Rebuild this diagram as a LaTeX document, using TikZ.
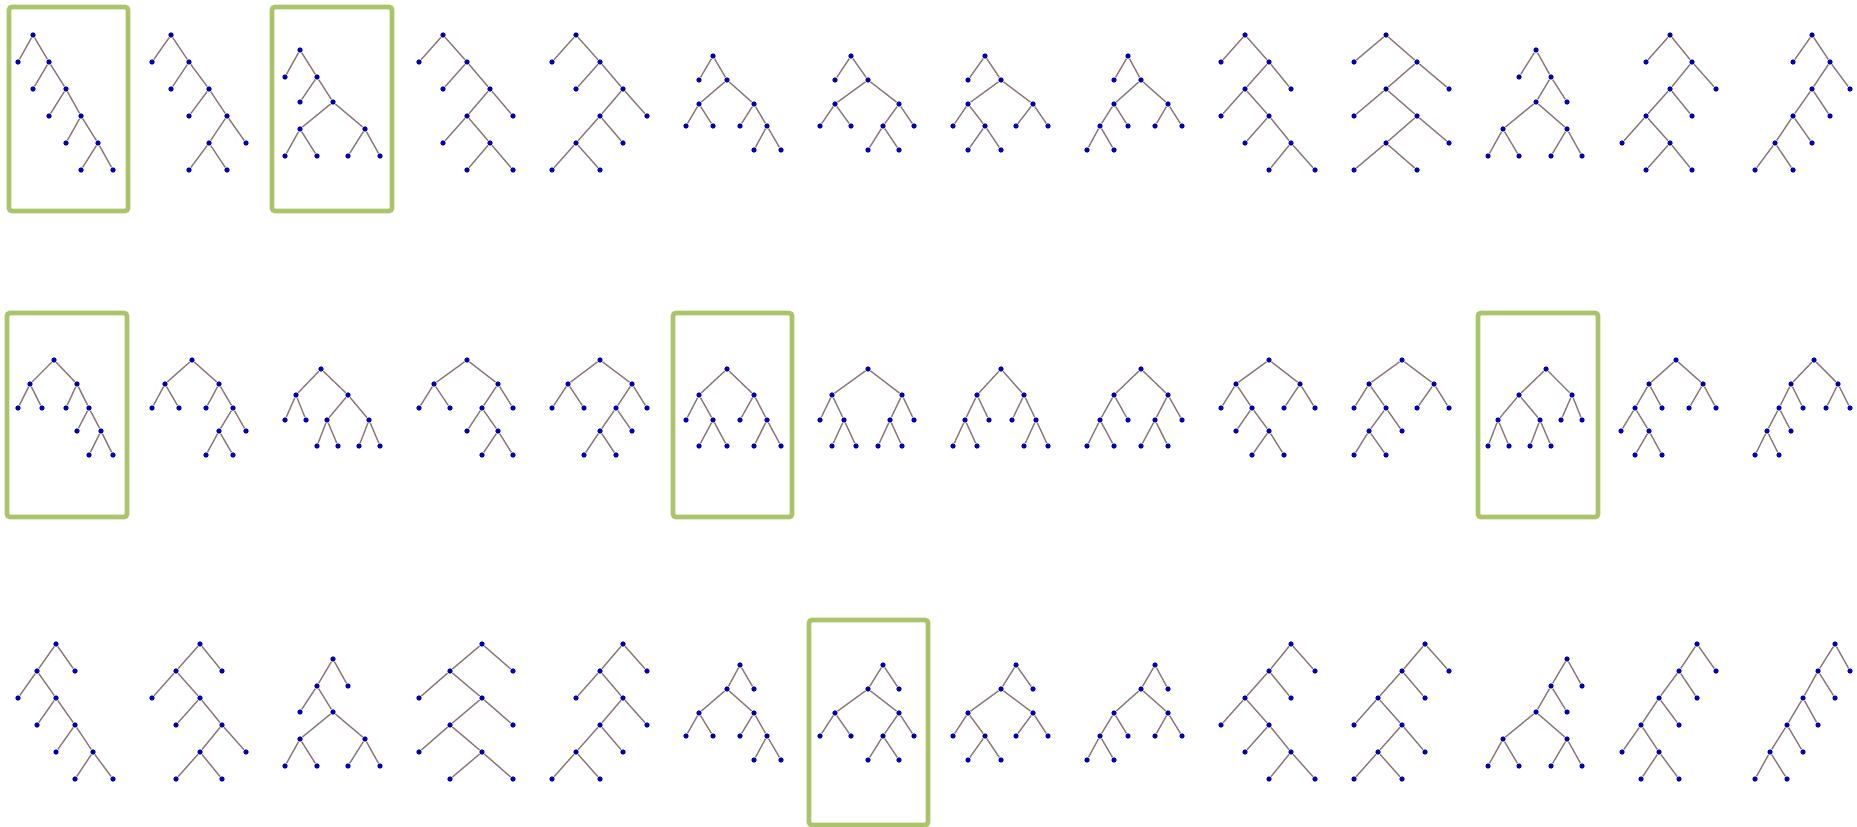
\documentclass[tikz,border=0pt]{standalone}
\usepackage{tikz}

\definecolor{dotblue}{RGB}{0,0,180}
\definecolor{edgegray}{RGB}{140,120,120}
\definecolor{framegreen}{RGB}{170,196,108}

\tikzset{
  treedot/.style={circle, fill=dotblue, inner sep=0pt, minimum size=2.1pt},
  treeedge/.style={draw=edgegray, line width=0.55pt},
  hilite/.style={draw=framegreen, line width=1.9pt, rounded corners=1.2pt}
}

% one tree: list of x/y/parent (parent 0 = root)
\newcommand{\drawtree}[2]{%
  \foreach \px/\py/\pa [count=\i] in {#2} {
    \node[treedot] (t#1-\i) at (\px,\py) {};
    \ifnum\pa>0 \draw[treeedge] (t#1-\pa) -- (t#1-\i); \fi
  }%
}

\begin{document}
\begin{tikzpicture}[x=0.4pt, y=-0.4pt]
  \useasboundingbox (0,0) rectangle (1857,826);

  % highlighted trees
  \draw[hilite] (9,7) rectangle (128,211);
  \draw[hilite] (272,7) rectangle (392,211);
  \draw[hilite] (7,313) rectangle (127,517);
  \draw[hilite] (673,313) rectangle (792,517);
  \draw[hilite] (1478,313) rectangle (1598,517);
  \draw[hilite] (809,620) rectangle (928,825);

  % row 1
  \drawtree{1}{33/35/0, 18/62/1, 49/62/1, 33/89/3, 66/89/3, 49/116/5, 81/116/5, 66/143/7, 98/143/7, 81/170/9, 113/170/9}
  \drawtree{2}{171/35/0, 152/62/1, 189/62/1, 171/89/3, 209/89/3, 189/116/5, 227/116/5, 209/143/7, 246/143/7, 189/170/8, 227/170/8}
  \drawtree{3}{300/50/0, 285/77/1, 317/77/1, 300/102/3, 333/102/3, 300/129/5, 365/129/5, 285/156/6, 317/156/6, 348/156/7, 380/156/7}
  \drawtree{4}{443/35/0, 419/62/1, 467/62/1, 443/89/3, 490/89/3, 467/116/5, 513/116/5, 443/143/6, 490/143/6, 467/170/9, 513/170/9}
  \drawtree{5}{576/35/0, 552/62/1, 600/62/1, 576/89/3, 623/89/3, 600/116/5, 647/116/5, 576/143/6, 623/143/6, 552/170/8, 600/170/8}
  \drawtree{6}{713/56/0, 699/80/1, 727/80/1, 699/104/3, 754/104/3, 686/126/4, 713/126/4, 740/126/5, 767/126/5, 754/150/9, 781/150/9}
  \drawtree{7}{851/56/0, 835/80/1, 868/80/1, 835/104/3, 899/104/3, 820/126/4, 851/126/4, 883/126/5, 914/126/5, 868/150/8, 899/150/8}
  \drawtree{8}{985/56/0, 968/80/1, 1001/80/1, 968/104/3, 1033/104/3, 953/126/4, 985/126/4, 1016/126/5, 1048/126/5, 968/150/7, 1001/150/7}
  \drawtree{9}{1128/56/0, 1114/80/1, 1141/80/1, 1114/104/3, 1168/104/3, 1100/126/4, 1128/126/4, 1155/126/5, 1182/126/5, 1087/150/6, 1114/150/6}
  \drawtree{10}{1245/35/0, 1221/62/1, 1269/62/1, 1245/89/3, 1291/89/3, 1221/116/4, 1269/116/4, 1245/143/7, 1291/143/7, 1269/170/9, 1315/170/9}
  \drawtree{11}{1386/35/0, 1354/62/1, 1417/62/1, 1386/89/3, 1449/89/3, 1354/116/4, 1417/116/4, 1386/143/7, 1449/143/7, 1354/170/8, 1417/170/8}
  \drawtree{12}{1536/50/0, 1519/77/1, 1551/77/1, 1536/102/3, 1567/102/3, 1503/129/4, 1567/129/4, 1488/156/6, 1519/156/6, 1551/156/7, 1582/156/7}
  \drawtree{13}{1670/35/0, 1646/62/1, 1692/62/1, 1670/89/3, 1716/89/3, 1646/116/4, 1692/116/4, 1622/143/6, 1670/143/6, 1646/170/9, 1692/170/9}
  \drawtree{14}{1812/35/0, 1793/62/1, 1830/62/1, 1812/89/3, 1850/89/3, 1793/116/4, 1830/116/4, 1775/143/6, 1812/143/6, 1755/170/8, 1793/170/8}

  % row 2
  \drawtree{15}{54/360/0, 30/384/1, 77/384/1, 18/408/2, 42/408/2, 66/408/3, 89/408/3, 77/431/7, 101/431/7, 89/455/9, 113/455/9}
  \drawtree{16}{192/360/0, 165/384/1, 219/384/1, 152/408/2, 179/408/2, 206/408/3, 233/408/3, 219/431/7, 246/431/7, 206/455/8, 233/455/8}
  \drawtree{17}{321/369/0, 296/395/1, 348/395/1, 285/420/2, 306/420/2, 327/420/3, 369/420/3, 317/446/6, 338/446/6, 359/446/7, 380/446/7}
  \drawtree{18}{467/360/0, 434/384/1, 498/384/1, 419/408/2, 450/408/2, 482/408/3, 513/408/3, 467/431/6, 498/431/6, 482/455/9, 513/455/9}
  \drawtree{19}{600/360/0, 568/384/1, 632/384/1, 552/408/2, 584/408/2, 616/408/3, 647/408/3, 600/431/6, 632/431/6, 584/455/8, 616/455/8}
  \drawtree{20}{727/369/0, 699/395/1, 754/395/1, 686/420/2, 713/420/2, 740/420/3, 767/420/3, 699/446/5, 727/446/5, 754/446/7, 781/446/7}
  \drawtree{21}{868/369/0, 832/395/1, 902/395/1, 820/420/2, 844/420/2, 890/420/3, 914/420/3, 832/446/5, 856/446/5, 878/446/6, 902/446/6}
  \drawtree{22}{1001/369/0, 977/395/1, 1024/395/1, 965/420/2, 989/420/2, 1012/420/3, 1036/420/3, 953/446/4, 977/446/4, 1024/446/7, 1048/446/7}
  \drawtree{23}{1141/369/0, 1114/395/1, 1168/395/1, 1100/420/2, 1128/420/2, 1155/420/3, 1182/420/3, 1087/446/4, 1114/446/4, 1141/446/6, 1168/446/6}
  \drawtree{24}{1269/360/0, 1236/384/1, 1300/384/1, 1221/408/2, 1252/408/2, 1284/408/3, 1315/408/3, 1236/431/5, 1269/431/5, 1252/455/9, 1284/455/9}
  \drawtree{25}{1402/360/0, 1369/384/1, 1434/384/1, 1354/408/2, 1386/408/2, 1417/408/3, 1449/408/3, 1369/431/5, 1402/431/5, 1354/455/8, 1386/455/8}
  \drawtree{26}{1546/369/0, 1519/395/1, 1572/395/1, 1498/420/2, 1540/420/2, 1561/420/3, 1582/420/3, 1488/446/4, 1509/446/4, 1530/446/5, 1551/446/5}
  \drawtree{27}{1676/360/0, 1649/384/1, 1703/384/1, 1635/408/2, 1662/408/2, 1689/408/3, 1716/408/3, 1621/431/4, 1649/431/4, 1635/455/9, 1662/455/9}
  \drawtree{28}{1814/360/0, 1791/384/1, 1838/384/1, 1779/408/2, 1803/408/2, 1826/408/3, 1850/408/3, 1767/431/4, 1791/431/4, 1755/455/8, 1779/455/8}

  % row 3
  \drawtree{29}{56/644/0, 37/671/1, 75/671/1, 18/698/2, 56/698/2, 37/725/5, 75/725/5, 56/752/7, 93/752/7, 75/779/9, 113/779/9}
  \drawtree{30}{200/644/0, 176/671/1, 222/671/1, 152/698/2, 200/698/2, 176/725/5, 222/725/5, 200/752/7, 246/752/7, 176/779/8, 222/779/8}
  \drawtree{31}{333/659/0, 317/686/1, 348/686/1, 300/712/2, 333/712/2, 300/739/5, 365/739/5, 285/766/6, 317/766/6, 348/766/7, 380/766/7}
  \drawtree{32}{482/644/0, 450/671/1, 513/671/1, 419/698/2, 482/698/2, 450/725/5, 513/725/5, 419/752/6, 482/752/6, 450/779/9, 513/779/9}
  \drawtree{33}{623/644/0, 600/671/1, 647/671/1, 576/698/2, 623/698/2, 600/725/5, 647/725/5, 576/752/6, 623/752/6, 552/779/8, 600/779/8}
  \drawtree{34}{740/665/0, 727/689/1, 754/689/1, 699/713/2, 754/713/2, 686/736/4, 713/736/4, 740/736/5, 767/736/5, 754/760/9, 781/760/9}
  \drawtree{35}{883/665/0, 868/689/1, 899/689/1, 835/713/2, 899/713/2, 820/736/4, 851/736/4, 883/736/5, 914/736/5, 868/760/8, 899/760/8}
  \drawtree{36}{1016/665/0, 1001/689/1, 1033/689/1, 968/713/2, 1033/713/2, 953/736/4, 985/736/4, 1016/736/5, 1048/736/5, 968/760/7, 1001/760/7}
  \drawtree{37}{1155/665/0, 1141/689/1, 1168/689/1, 1114/713/2, 1168/713/2, 1100/736/4, 1128/736/4, 1155/736/5, 1182/736/5, 1087/760/6, 1114/760/6}
  \drawtree{38}{1291/644/0, 1269/671/1, 1315/671/1, 1245/698/2, 1291/698/2, 1221/725/4, 1269/725/4, 1245/752/7, 1291/752/7, 1269/779/9, 1315/779/9}
  \drawtree{39}{1425/644/0, 1402/671/1, 1449/671/1, 1378/698/2, 1425/698/2, 1354/725/4, 1402/725/4, 1378/752/7, 1425/752/7, 1354/779/8, 1402/779/8}
  \drawtree{40}{1567/659/0, 1551/686/1, 1582/686/1, 1536/712/2, 1567/712/2, 1503/739/4, 1567/739/4, 1488/766/6, 1519/766/6, 1551/766/7, 1582/766/7}
  \drawtree{41}{1697/644/0, 1679/671/1, 1716/671/1, 1659/698/2, 1697/698/2, 1641/725/4, 1679/725/4, 1622/752/6, 1659/752/6, 1641/779/9, 1679/779/9}
  \drawtree{42}{1835/644/0, 1818/671/1, 1850/671/1, 1803/698/2, 1835/698/2, 1787/725/4, 1818/725/4, 1770/752/6, 1803/752/6, 1755/779/8, 1787/779/8}
\end{tikzpicture}
\end{document}
